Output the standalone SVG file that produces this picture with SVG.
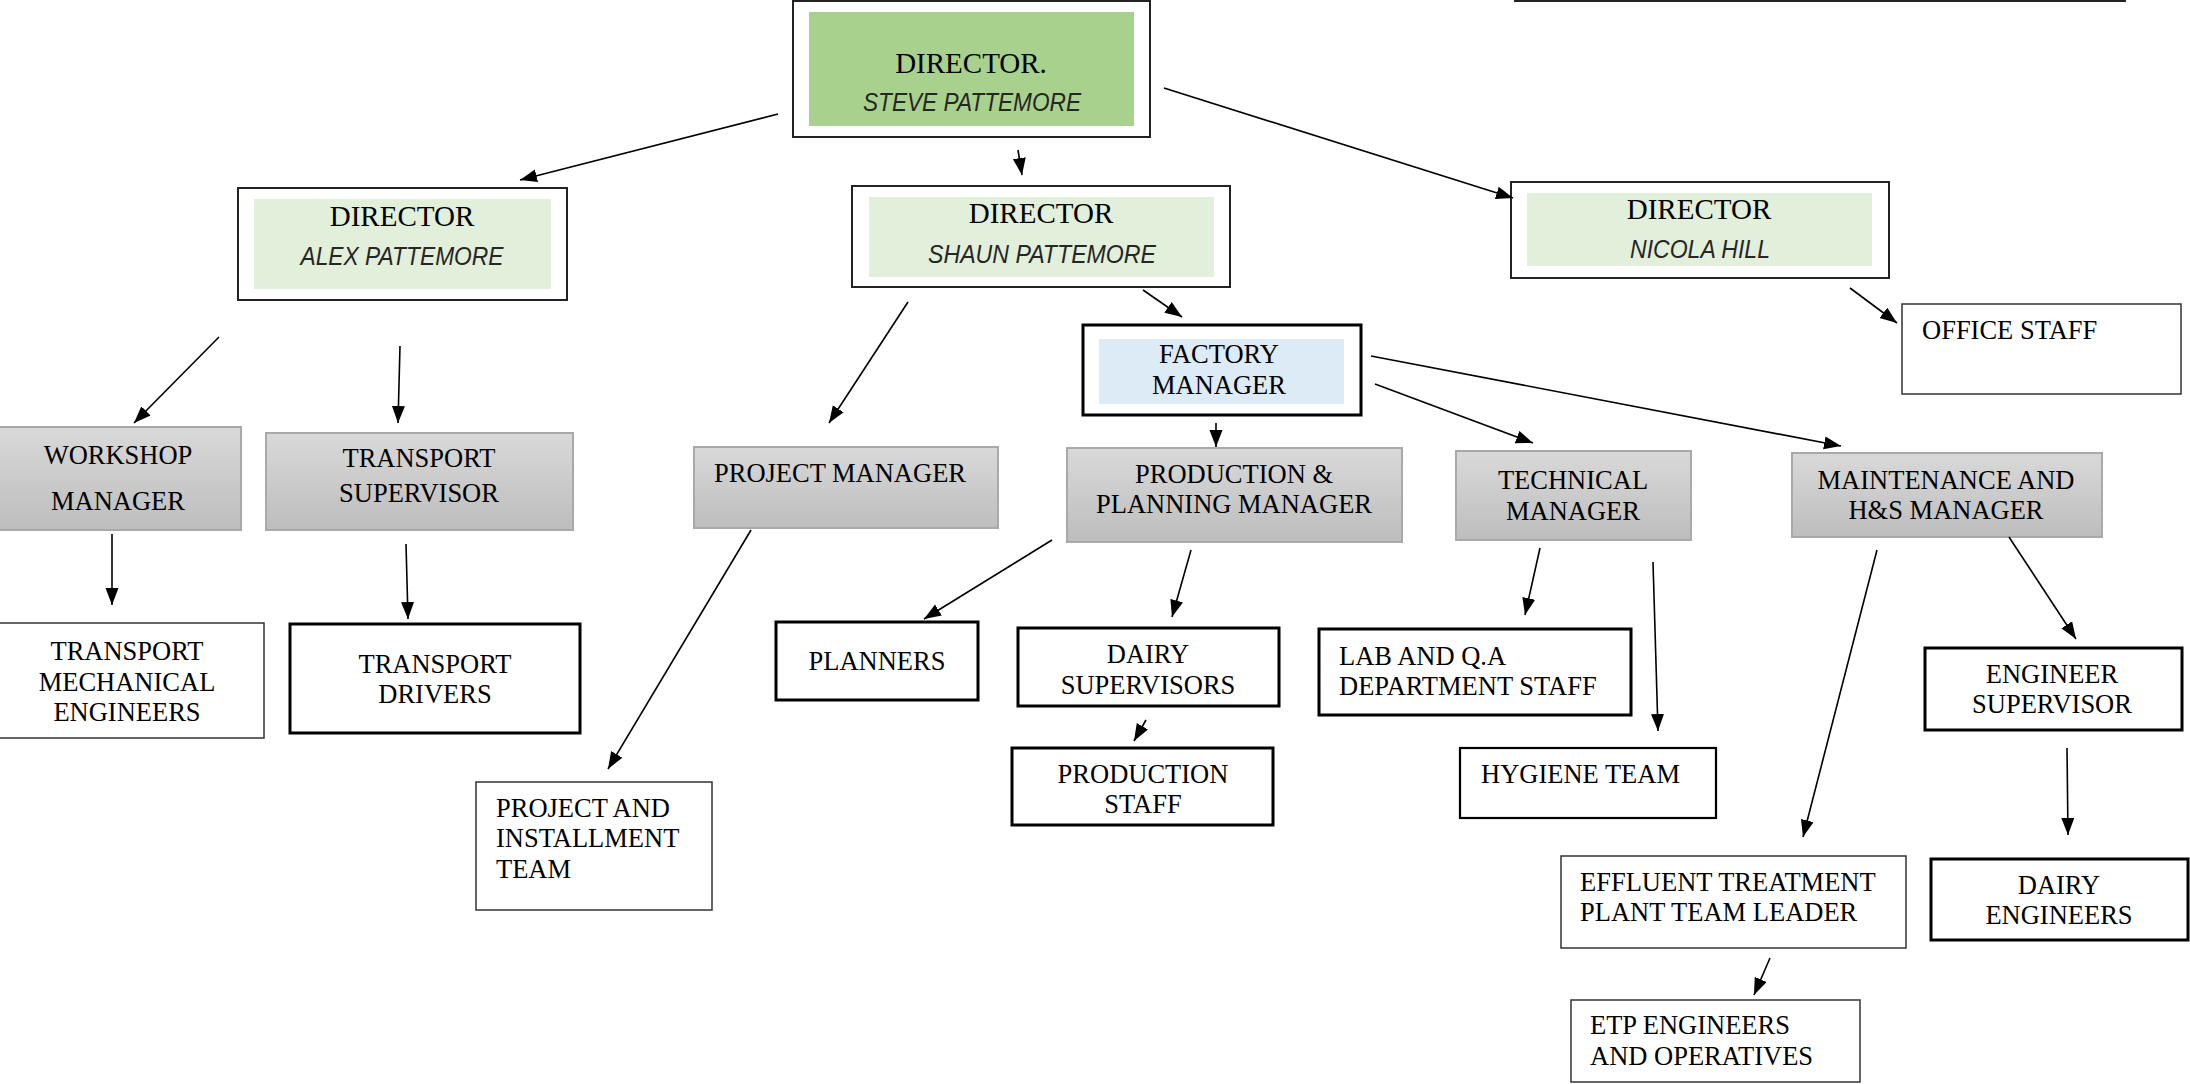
<svg xmlns="http://www.w3.org/2000/svg" width="2190" height="1084" viewBox="0 0 2190 1084">
<defs>
<linearGradient id="gray" x1="0" y1="0" x2="0" y2="1">
<stop offset="0" stop-color="#d9d9d9"/>
<stop offset="1" stop-color="#bdbdbd"/>
</linearGradient>
<marker id="arr" markerUnits="userSpaceOnUse" markerWidth="18" markerHeight="14" refX="17" refY="6.5" orient="auto">
<path d="M0,0 L17,6.5 L0,13 z" fill="#000"/>
</marker>
</defs>
<style>
.t{font-family:"Liberation Serif","Times New Roman",serif;font-size:26.5px;fill:#000}
.c{text-anchor:middle}
.d{font-family:"Liberation Serif","Times New Roman",serif;font-size:29px;fill:#000;text-anchor:middle}
.n{font-family:"Liberation Sans",Arial,sans-serif;font-style:italic;font-size:26px;fill:#262626;text-anchor:middle}
.outer{fill:#fff;stroke:#222;stroke-width:2}
.thin{fill:#fff;stroke:#333;stroke-width:1.5}
.thick{fill:#fff;stroke:#000;stroke-width:3}
.grey{fill:url(#gray);stroke:#a9a9a9;stroke-width:2}
.con line{stroke:#000;stroke-width:1.6;marker-end:url(#arr)}
</style>
<rect width="2190" height="1084" fill="#fff"/>
<line x1="1514" y1="1" x2="2126" y2="1" stroke="#222" stroke-width="2"/>

<g id="director-steve">
<rect class="outer" x="793" y="1" width="357" height="136"/>
<rect x="809" y="12" width="325" height="114" fill="#a9d18e"/>
<text class="d" x="971" y="73">DIRECTOR.</text>
<text class="n" x="972" y="111" textLength="218" lengthAdjust="spacingAndGlyphs">STEVE PATTEMORE</text>
</g>
<g id="director-alex">
<rect class="outer" x="238" y="188" width="329" height="112"/>
<rect x="254" y="199" width="297" height="90" fill="#e2efda"/>
<text class="d" x="402" y="226">DIRECTOR</text>
<text class="n" x="402" y="265" textLength="203" lengthAdjust="spacingAndGlyphs">ALEX PATTEMORE</text>
</g>
<g id="director-shaun">
<rect class="outer" x="852" y="186" width="378" height="101"/>
<rect x="869" y="197" width="345" height="80" fill="#e2efda"/>
<text class="d" x="1041" y="223">DIRECTOR</text>
<text class="n" x="1042" y="263" textLength="228" lengthAdjust="spacingAndGlyphs">SHAUN PATTEMORE</text>
</g>
<g id="director-nicola">
<rect class="outer" x="1511" y="182" width="378" height="96"/>
<rect x="1527" y="193" width="345" height="73" fill="#e2efda"/>
<text class="d" x="1699" y="219">DIRECTOR</text>
<text class="n" x="1700" y="258" textLength="140" lengthAdjust="spacingAndGlyphs">NICOLA HILL</text>
</g>
<g id="office-staff">
<rect class="thin" x="1902" y="304" width="279" height="90"/>
<text class="t" x="1922" y="339">OFFICE STAFF</text>
</g>
<g id="factory-manager">
<rect class="thick" x="1083" y="325" width="278" height="90"/>
<rect x="1099" y="339" width="245" height="65" fill="#ddebf7"/>
<text class="t c" x="1219" y="363">FACTORY</text>
<text class="t c" x="1219" y="394">MANAGER</text>
</g>
<g id="workshop-manager">
<rect class="grey" x="-2" y="427" width="243" height="103"/>
<text class="t c" x="118" y="464">WORKSHOP</text>
<text class="t c" x="118" y="510">MANAGER</text>
</g>
<g id="transport-supervisor">
<rect class="grey" x="266" y="433" width="307" height="97"/>
<text class="t c" x="419" y="467">TRANSPORT</text>
<text class="t c" x="419" y="502">SUPERVISOR</text>
</g>
<g id="project-manager">
<rect class="grey" x="694" y="447" width="304" height="81"/>
<text class="t c" x="840" y="482">PROJECT MANAGER</text>
</g>
<g id="production-planning-manager">
<rect class="grey" x="1067" y="448" width="335" height="94"/>
<text class="t c" x="1234" y="483">PRODUCTION &amp;</text>
<text class="t c" x="1234" y="513">PLANNING MANAGER</text>
</g>
<g id="technical-manager">
<rect class="grey" x="1456" y="451" width="235" height="89"/>
<text class="t c" x="1573" y="489">TECHNICAL</text>
<text class="t c" x="1573" y="520">MANAGER</text>
</g>
<g id="maintenance-manager">
<rect class="grey" x="1792" y="453" width="310" height="84"/>
<text class="t c" x="1946" y="489">MAINTENANCE AND</text>
<text class="t c" x="1946" y="519">H&amp;S MANAGER</text>
</g>
<g id="transport-mechanical-engineers">
<rect class="thin" x="-2" y="623" width="266" height="115"/>
<text class="t c" x="127" y="660">TRANSPORT</text>
<text class="t c" x="127" y="691">MECHANICAL</text>
<text class="t c" x="127" y="721">ENGINEERS</text>
</g>
<g id="transport-drivers">
<rect class="thick" x="290" y="624" width="290" height="109"/>
<text class="t c" x="435" y="673">TRANSPORT</text>
<text class="t c" x="435" y="703">DRIVERS</text>
</g>
<g id="planners">
<rect class="thick" x="776" y="622" width="202" height="78"/>
<text class="t c" x="877" y="670">PLANNERS</text>
</g>
<g id="dairy-supervisors">
<rect class="thick" x="1018" y="628" width="261" height="78"/>
<text class="t c" x="1148" y="663">DAIRY</text>
<text class="t c" x="1148" y="694">SUPERVISORS</text>
</g>
<g id="production-staff">
<rect class="thick" x="1012" y="748" width="261" height="77"/>
<text class="t c" x="1143" y="783">PRODUCTION</text>
<text class="t c" x="1143" y="813">STAFF</text>
</g>
<g id="lab-qa">
<rect class="thick" x="1319" y="629" width="312" height="86"/>
<text class="t" x="1339" y="665">LAB AND Q.A</text>
<text class="t" x="1339" y="695">DEPARTMENT STAFF</text>
</g>
<g id="hygiene-team">
<rect class="thin" style="stroke-width:2.2;stroke:#000" x="1460" y="748" width="256" height="70"/>
<text class="t" x="1481" y="783">HYGIENE TEAM</text>
</g>
<g id="engineer-supervisor">
<rect class="thick" x="1925" y="648" width="257" height="82"/>
<text class="t c" x="2052" y="683">ENGINEER</text>
<text class="t c" x="2052" y="713">SUPERVISOR</text>
</g>
<g id="project-installment-team">
<rect class="thin" x="476" y="782" width="236" height="128"/>
<text class="t" x="496" y="817">PROJECT AND</text>
<text class="t" x="496" y="847">INSTALLMENT</text>
<text class="t" x="496" y="878">TEAM</text>
</g>
<g id="effluent-team-leader">
<rect class="thin" x="1561" y="856" width="345" height="92"/>
<text class="t" x="1580" y="891">EFFLUENT TREATMENT</text>
<text class="t" x="1580" y="921">PLANT TEAM LEADER</text>
</g>
<g id="dairy-engineers">
<rect class="thick" x="1931" y="859" width="257" height="81"/>
<text class="t c" x="2059" y="894">DAIRY</text>
<text class="t c" x="2059" y="924">ENGINEERS</text>
</g>
<g id="etp-engineers">
<rect class="thin" x="1571" y="1000" width="289" height="82"/>
<text class="t" x="1590" y="1034">ETP ENGINEERS</text>
<text class="t" x="1590" y="1065">AND OPERATIVES</text>
</g>

<g id="connectors" class="con">
<line x1="778" y1="114" x2="520" y2="180"/>
<line x1="1018" y1="150" x2="1022" y2="175"/>
<line x1="1164" y1="88" x2="1513" y2="198"/>
<line x1="219" y1="337" x2="134" y2="423"/>
<line x1="400" y1="346" x2="398" y2="423"/>
<line x1="112" y1="534" x2="112" y2="605"/>
<line x1="406" y1="544" x2="408" y2="619"/>
<line x1="908" y1="302" x2="829" y2="423"/>
<line x1="1143" y1="290" x2="1182" y2="317"/>
<line x1="1850" y1="288" x2="1897" y2="323"/>
<line x1="751" y1="530" x2="608" y2="769"/>
<line x1="1216" y1="423" x2="1216" y2="447"/>
<line x1="1375" y1="384" x2="1533" y2="443"/>
<line x1="1371" y1="356" x2="1841" y2="446"/>
<line x1="1052" y1="540" x2="924" y2="619"/>
<line x1="1191" y1="550" x2="1172" y2="617"/>
<line x1="1146" y1="720" x2="1134" y2="741"/>
<line x1="1540" y1="548" x2="1525" y2="615"/>
<line x1="1653" y1="562" x2="1658" y2="731"/>
<line x1="2009" y1="537" x2="2076" y2="639"/>
<line x1="1877" y1="550" x2="1803" y2="837"/>
<line x1="2067" y1="748" x2="2068" y2="835"/>
<line x1="1770" y1="958" x2="1754" y2="995"/>
</g>
</svg>
